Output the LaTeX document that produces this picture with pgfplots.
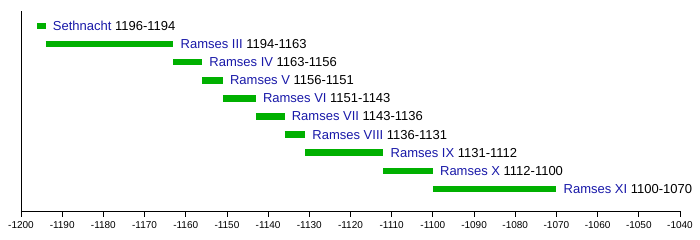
\documentclass[border=0pt]{standalone}
\usepackage{pgfplots}
\pgfplotsset{compat=1.18}
\usepackage{fontspec}
\setmainfont{Liberation Sans}
\definecolor{bargreen}{HTML}{00B000}
\definecolor{namblue}{HTML}{1818A8}
\newcommand{\reign}[6]{%
  \addplot[bargreen, line width=6.5pt, line cap=butt] coordinates {(#1,#3) (#2,#3)}
    node[pos=1, anchor=west, inner sep=0pt, xshift=4pt, text=black, font=\fontsize{13}{15}\selectfont]
    {\textcolor{namblue}{#4} #5-#6};
}
\begin{document}
\begin{tikzpicture}
\path[use as bounding box] (-21pt,-29pt) rectangle (679pt,211pt);
\begin{axis}[
  at={(0,0)}, anchor=south west,
  scale only axis,
  width=659pt, height=200pt,
  xmin=-1200, xmax=-1040,
  ymin=-0.22, ymax=10.83,
  axis lines*=left,
  axis line style={black, line width=0.8pt},
  xtick={-1200,-1190,...,-1040},
  ytick=\empty,
  tick align=outside,
  major tick length=6pt,
  tick style={black, line width=0.8pt},
  xticklabel style={font=\fontsize{10}{12}\selectfont, yshift=-1pt},
  /pgf/number format/assume math mode=true,
  /pgf/number format/1000 sep={},
  clip=false,
]
\reign{-1196}{-1194}{10}{Sethnacht}{1196}{1194}
\reign{-1194}{-1163}{9}{Ramses III}{1194}{1163}
\reign{-1163}{-1156}{8}{Ramses IV}{1163}{1156}
\reign{-1156}{-1151}{7}{Ramses V}{1156}{1151}
\reign{-1151}{-1143}{6}{Ramses VI}{1151}{1143}
\reign{-1143}{-1136}{5}{Ramses VII}{1143}{1136}
\reign{-1136}{-1131}{4}{Ramses VIII}{1136}{1131}
\reign{-1131}{-1112}{3}{Ramses IX}{1131}{1112}
\reign{-1112}{-1100}{2}{Ramses X}{1112}{1100}
\reign{-1100}{-1070}{1}{Ramses XI}{1100}{1070}
\end{axis}
\end{tikzpicture}
\end{document}
